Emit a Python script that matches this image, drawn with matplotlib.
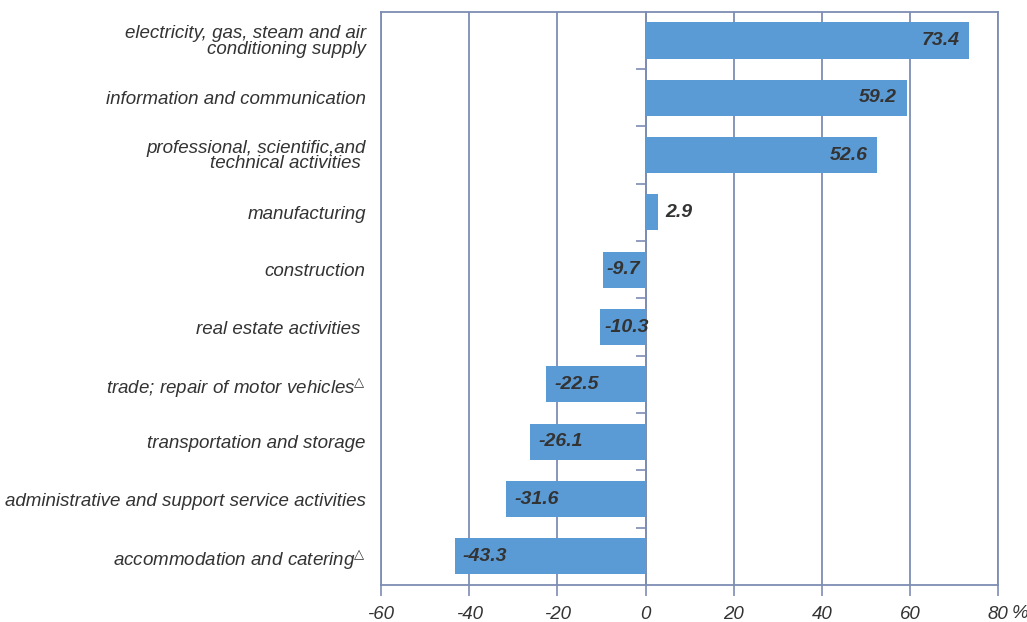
import matplotlib.pyplot as plt
import numpy as np

plt.rcParams['font.family'] = ['Liberation Sans', 'DejaVu Sans']
plt.rcParams['mathtext.fontset'] = 'dejavusans'

# ========== 数据 ==========
categories = [
    'electricity, gas, steam and air\nconditioning supply',
    'information and communication',
    'professional, scientific,and\ntechnical activities ',
    'manufacturing',
    'construction',
    'real estate activities ',
    'trade; repair of motor vehicles$\\!^{\\triangle}$',
    'transportation and storage',
    'administrative and support service activities',
    'accommodation and catering$\\!^{\\triangle}$',
]
values = [73.4, 59.2, 52.6, 2.9, -9.7, -10.3, -22.5, -26.1, -31.6, -43.3]
x_ticks = [-60, -40, -20, 0, 20, 40, 60, 80]
x_tick_labels = ['-60', '-40', '-20', '0', '20', '40', '60', '80']

bar_c = '#5b9bd5'
line_c = '#7d8cb4'
text_c = '#333333'
fs = 13.5

fig, ax = plt.subplots(figsize=(10.27, 6.22), dpi=100)
fig.subplots_adjust(left=0.371, right=0.972, top=0.981, bottom=0.0595)

y = np.arange(len(categories))
ax.barh(y, values, height=0.63, color=bar_c, zorder=3)
ax.set_xlim(x_ticks[0], x_ticks[-1])
ax.set_ylim(len(categories) - 0.5, -0.5)

# 竖直网格线
ax.set_xticks(x_ticks, x_tick_labels, fontstyle='italic', fontsize=fs, color=text_c)
ax.grid(axis='x', color=line_c, linewidth=1.3, zorder=1)
ax.set_axisbelow(True)
ax.tick_params(axis='x', length=8, width=1.2, color=line_c, pad=7)

ax.set_yticks(y, categories, fontstyle='italic', fontsize=fs, color=text_c,
              linespacing=0.85)
ax.tick_params(axis='y', length=0, pad=11)

for s in ax.spines.values():
    s.set_color(line_c)
    s.set_linewidth(1.3)

# 零线上的分隔刻度
zero_pos = (0 - x_ticks[0]) / (x_ticks[-1] - x_ticks[0])
secax = ax.secondary_yaxis(zero_pos)
secax.set_yticks(y[:-1] + 0.5)
secax.tick_params(axis='y', length=7, width=1.2, color=line_c, direction='out',
                  labelleft=False, labelright=False, left=True, right=False)
for s in secax.spines.values():
    s.set_color(line_c)
    s.set_linewidth(1.3)

# 数值标签
for yi, v in zip(y, values):
    if v > 10:
        off, ha = -10, 'right'
    elif v >= 0:
        off, ha = 7, 'left'
    elif v > -15:
        off, ha = 4, 'left'
    else:
        off, ha = 8, 'left'
    ax.annotate(f'{v:.1f}', (v, yi), xytext=(off, 0), textcoords='offset pixels',
                ha=ha, va='center', fontsize=14, fontweight='bold',
                fontstyle='italic', color=text_c, zorder=5)

ax.annotate('%', xy=(1, 0), xycoords='axes fraction', xytext=(13, -29),
            textcoords='offset pixels', ha='left', va='center',
            fontsize=fs, fontstyle='italic', color=text_c)

plt.savefig('out.png', dpi=100)
